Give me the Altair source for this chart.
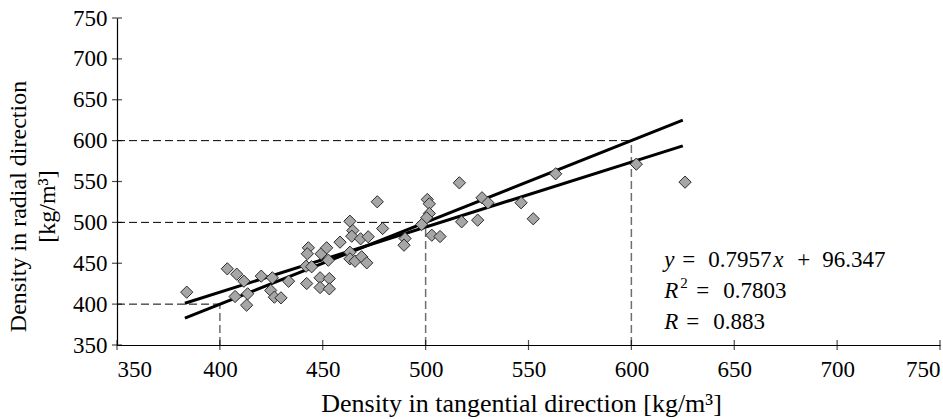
import altair as alt
import pandas as pd

# Sample densities [kg/m^3]
tangential = [383.9, 403.6, 408.2, 411.7, 407.4, 413.5, 413.0, 420.1, 425.5, 433.4,
              424.7, 426.5, 429.7, 442.2, 443.0, 442.5, 441.9, 444.6, 449.2, 451.9,
              452.7, 448.7, 453.2, 448.7, 453.2, 463.2, 464.6, 464.1, 468.4, 458.4,
              463.2, 463.2, 465.7, 468.9, 471.4, 472.1, 476.5, 479.1, 500.8, 501.8,
              501.8, 500.5, 498.1, 490.0, 489.5, 503.0, 507.0, 516.4, 517.5, 525.3,
              527.4, 530.3, 546.4, 552.3, 563.2, 602.4, 626.1]
radial = [414.6, 443.2, 436.6, 428.0, 409.3, 412.6, 398.7, 434.2, 432.2, 428.0,
          416.7, 408.5, 407.7, 425.2, 468.9, 461.6, 446.4, 445.7, 461.6, 468.9,
          453.7, 432.2, 431.3, 420.3, 418.7, 501.4, 490.0, 483.1, 479.9, 475.8,
          463.5, 455.4, 452.5, 457.9, 450.5, 482.4, 525.2, 492.5, 528.0, 522.7,
          510.9, 505.6, 497.4, 480.3, 472.1, 484.3, 482.7, 548.4, 500.7, 502.7,
          530.1, 524.0, 524.0, 504.4, 559.4, 571.2, 549.2]

# Linear fit
slope = 0.7957
intercept = 96.347
r_squared = 0.7803
r_value = 0.883
line_range = [383.0, 625.0]

# Reference levels marked with dashed guides
guide_levels = [400, 500, 600]
tick_values = [350, 400, 450, 500, 550, 600, 650, 700, 750]

SERIF = "'Liberation Serif', 'Times New Roman', serif"
DOMAIN = [350, 750]

points = pd.DataFrame({"x": tangential, "y": radial})
fit = pd.DataFrame({"x": line_range, "y": [slope * v + intercept for v in line_range]})
identity = pd.DataFrame({"x": line_range, "y": line_range})
h_guides = pd.DataFrame({"x": [DOMAIN[0]] * len(guide_levels), "x2": guide_levels, "y": guide_levels})
v_guides = pd.DataFrame({"x": guide_levels, "y": [DOMAIN[0]] * len(guide_levels), "y2": guide_levels})
ticks = pd.DataFrame({"x": tick_values, "y": tick_values})

x_axis = alt.Axis(
    values=tick_values, ticks=False, grid=False, domainColor="black", domainWidth=1.2,
    labelFont=SERIF, labelFontSize=23, labelColor="black", labelPadding=13,
    title="Density in tangential direction [kg/m³]", titleFont=SERIF, titleFontSize=26,
    titleFontWeight="normal", titleColor="black", titleX=404, titleY=66,
    titleBaseline="alphabetic", titleAlign="center",
)
y_axis = alt.Axis(
    values=tick_values, ticks=False, grid=False, domainColor="black", domainWidth=1.2,
    labelFont=SERIF, labelFontSize=23, labelColor="black", labelPadding=10,
    title=["Density in radial direction", "[kg/m³]"], titleFont=SERIF, titleFontSize=24,
    titleFontWeight="normal", titleColor="black", titleAngle=-90, titleX=-99,
    titleY=188, titleAlign="center", titleBaseline="middle", titleLineHeight=29,
)
X = alt.X("x:Q", scale=alt.Scale(domain=DOMAIN, nice=False, zero=False), axis=x_axis)
Y = alt.Y("y:Q", scale=alt.Scale(domain=DOMAIN, nice=False, zero=False), axis=y_axis)

h_rules = alt.Chart(h_guides).mark_rule(color="black", strokeWidth=1, strokeDash=[8, 4]).encode(
    x=X, x2="x2:Q", y=Y)
v_rules = alt.Chart(v_guides).mark_rule(color="#6e6e6e", strokeWidth=1.5, strokeDash=[8, 4]).encode(
    x=X, y=Y, y2="y2:Q")

x_ticks = alt.Chart(ticks).mark_tick(orient="vertical", size=10, thickness=1.2, color="black").encode(
    x=X, y=alt.datum(DOMAIN[0]))
y_ticks = alt.Chart(ticks).mark_tick(orient="horizontal", size=10, thickness=1.2, color="black").encode(
    y=Y, x=alt.datum(DOMAIN[0]))

fit_line = alt.Chart(fit).mark_line(color="black", strokeWidth=3).encode(x=X, y=Y)
identity_line = alt.Chart(identity).mark_line(color="black", strokeWidth=3).encode(x=X, y=Y)

scatter = alt.Chart(points).mark_point(
    shape="diamond", size=150, filled=True, fill="#a6a6a6", stroke="#2b2b2b",
    strokeWidth=1, opacity=1,
).encode(x=X, y=Y)

# Equation block, written piece by piece so the variables are italic
ANN_X = 616
LINE_Y = [446.0, 408.1, 369.0]


def piece(txt, line, dx, italic=False, size=23, dy=0):
    return alt.Chart(pd.DataFrame({"k": [0]})).mark_text(
        text=txt, dx=dx, dy=dy, align="left", baseline="alphabetic", font=SERIF,
        fontSize=size, fontStyle="italic" if italic else "normal", color="black",
    ).encode(x=alt.datum(ANN_X), y=alt.datum(LINE_Y[line]))


equation = [
    piece("y", 0, 0, italic=True),
    piece("=", 0, 18),
    piece(f"{slope}", 0, 44),
    piece("x", 0, 109, italic=True),
    piece("+", 0, 133),
    piece(f"{intercept}", 0, 158),
    piece("R", 1, 0, italic=True),
    piece("2", 1, 16, size=15, dy=-10),
    piece("=", 1, 32),
    piece(f"{r_squared}", 1, 59),
    piece("R", 2, 0, italic=True),
    piece("=", 2, 22),
    piece(f"{r_value}", 2, 49),
]

chart = alt.layer(
    h_rules, v_rules, fit_line, identity_line, scatter, x_ticks, y_ticks, *equation
).properties(
    width=823, height=327,
    padding={"left": 117, "top": 18, "right": 3, "bottom": 74},
    autosize=alt.AutoSizeParams(type="none"),
    background="white",
).configure_view(stroke=None)

chart.save("out.html", embed_options={"renderer": "svg", "actions": False})
